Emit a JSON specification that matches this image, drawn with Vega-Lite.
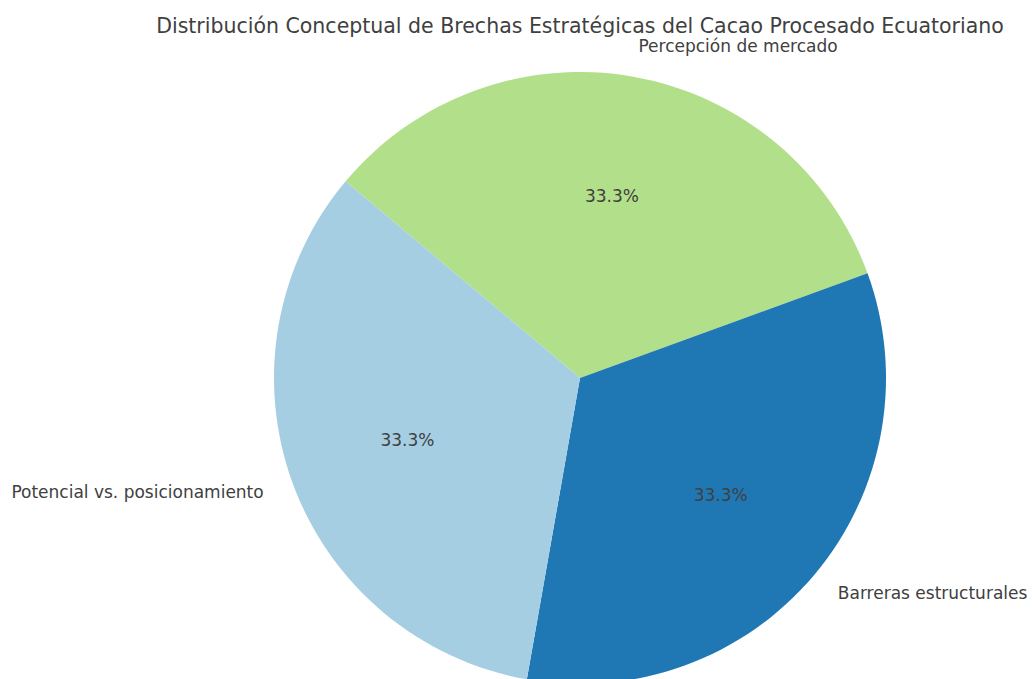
{
  "$schema": "https://vega.github.io/schema/vega-lite/v6.json",
  "autosize": "none",
  "width": 904,
  "height": 604,
  "padding": {"left": 128, "top": 76, "right": 0, "bottom": 0},
  "background": "white",
  "title": {
    "text": "Distribución Conceptual de Brechas Estratégicas del Cacao Procesado Ecuatoriano",
    "font": "DejaVu Sans",
    "fontSize": 20.5,
    "fontWeight": "normal",
    "color": "#404040",
    "anchor": "middle",
    "baseline": "alphabetic",
    "offset": 10,
    "dy": 26
  },
  "config": {"view": {"stroke": null}},
  "data": {
    "values": [
      {"categoria": "Percepción de mercado", "valor": 1, "proporcion": 0.3333, "orden": 1},
      {"categoria": "Barreras estructurales", "valor": 1, "proporcion": 0.3333, "orden": 2},
      {"categoria": "Potencial vs. posicionamiento", "valor": 1, "proporcion": 0.3333, "orden": 3}
    ]
  },
  "encoding": {
    "theta": {"field": "valor", "type": "quantitative", "stack": true, "scale": {"range": [-0.87266, 5.41052]}},
    "order": {"field": "orden", "type": "quantitative"}
  },
  "layer": [
    {
      "mark": {"type": "arc", "outerRadius": 306, "stroke": null},
      "encoding": {
        "color": {
          "field": "categoria",
          "type": "nominal",
          "legend": null,
          "scale": {
            "domain": ["Potencial vs. posicionamiento", "Barreras estructurales", "Percepción de mercado"],
            "range": ["#a6cee3", "#1f78b4", "#b2df8a"]
          }
        }
      }
    },
    {
      "mark": {"type": "text", "radius": 183.6, "font": "DejaVu Sans", "fontSize": 17, "color": "#404040", "align": "center", "baseline": "middle"},
      "encoding": {
        "text": {"field": "proporcion", "type": "quantitative", "format": ".1%"}
      }
    },
    {
      "mark": {
        "type": "text",
        "radius": 336.6,
        "font": "DejaVu Sans",
        "fontSize": 17,
        "color": "#404040",
        "baseline": "middle",
        "align": {"expr": "datum.categoria === 'Potencial vs. posicionamiento' ? 'right' : 'left'"}
      },
      "encoding": {
        "text": {"field": "categoria", "type": "nominal"}
      }
    }
  ]
}
